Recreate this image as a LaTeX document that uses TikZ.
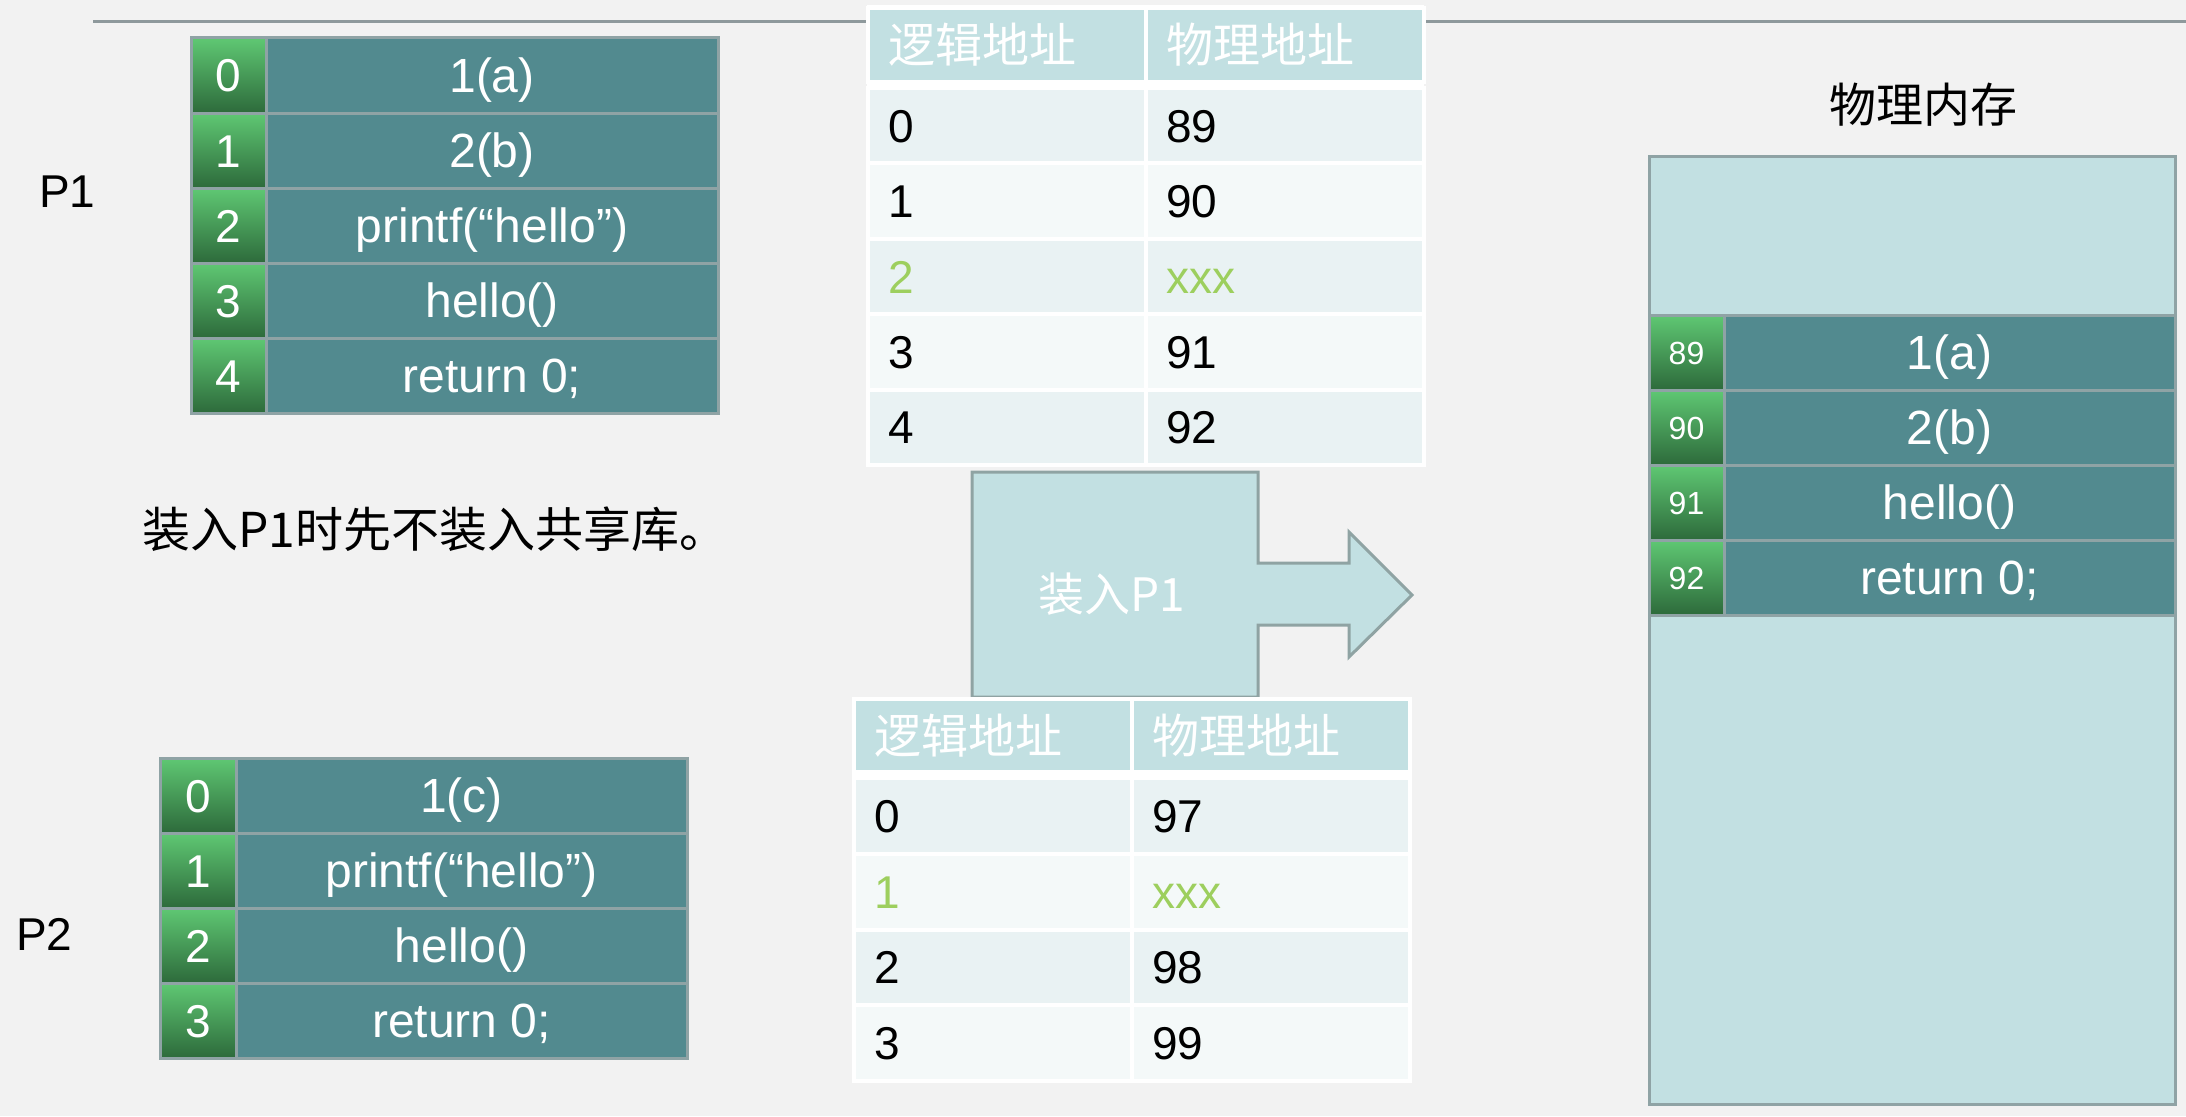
\documentclass[tikz,border=0pt]{standalone}
\usepackage{fontspec}
\setmainfont{Liberation Sans}
\newfontfamily\cjk{Noto Sans CJK SC}
\definecolor{bg}{HTML}{F2F2F2}
\definecolor{tealc}{HTML}{528A8F}
\definecolor{gridc}{HTML}{8FA3A5}
\definecolor{gtop}{HTML}{5FC873}
\definecolor{gbot}{HTML}{2D6A3B}
\definecolor{lblue}{HTML}{C2E0E2}
\definecolor{rowa}{HTML}{E9F2F3}
\definecolor{rowb}{HTML}{F4F9F9}
\definecolor{xgreen}{HTML}{9DCF5E}
\definecolor{lineg}{HTML}{8E999C}
\definecolor{arrowc}{HTML}{8FA3A3}
\tikzset{
  cellbase/.style={inner sep=0pt, outer sep=0pt, anchor=north west},
  codecell/.style={cellbase, fill=tealc, draw=gridc, line width=3pt, text=white,
    minimum height=75pt, font=\fontsize{48}{52}\selectfont, text height=34pt, text depth=0pt},
  idxcell/.style={cellbase, top color=gtop, bottom color=gbot, draw=gridc, line width=3pt,
    text=white, minimum width=75pt, minimum height=75pt,
    font=\fontsize{46}{50}\selectfont, text height=33pt, text depth=0pt},
  tblbg/.style={cellbase, fill=white},
  ptcell/.style={cellbase, draw=white, line width=4pt, text width=238pt,
    inner xsep=20pt, inner ysep=0pt, align=left},
  ptdata/.style={ptcell, font=\fontsize{46}{50}\selectfont, text height=33pt, text depth=0pt},
  pthead/.style={ptcell, fill=lblue, text=white, minimum height=74pt,
    font=\cjk\fontsize{47}{50}\selectfont},
  lbl/.style={inner sep=0pt, font=\fontsize{46}{50}\selectfont},
  cjklbl/.style={inner sep=0pt, font=\cjk\fontsize{47}{50}\selectfont},
}
\begin{document}
\begin{tikzpicture}[x=1pt, y=-1pt]
  \useasboundingbox (0,0) rectangle (2186,1116);
  \fill[bg] (0,0) rectangle (2186,1116);

  % top rule
  \coordinate (ruleL) at (93,22);
  \coordinate (ruleR) at (2186,22);
  \draw[lineg, line width=3pt] (ruleL) -- (ruleR);

  % labels
  \node[lbl, anchor=base west] (lp1) at (39,207) {P1};
  \node[lbl, anchor=base west] (lp2) at (16,950) {P2};
  \node[cjklbl, font=\cjk\fontsize{48}{52}\selectfont, anchor=base west] (desc) at (142,547) {装入P1时先不装入共享库。};
  \node[cjklbl] (memtitle) at (1923,105) {物理内存};

  % P1 code table
  \foreach \t [count=\i from 0] in {1(a),2(b),{printf(“hello”)},hello(),{return 0;}} {
    \node[codecell, minimum width=452pt] (p1c\i) at (266,{38+75*\i}) {\t};
    \node[idxcell] (p1i\i) at (191,{38+75*\i}) {\i};
  }

  % P2 code table
  \foreach \t [count=\i from 0] in {1(c),{printf(“hello”)},hello(),{return 0;}} {
    \node[codecell, minimum width=451pt] (p2c\i) at (236,{758+75*\i}) {\t};
    \node[idxcell, minimum width=76pt] (p2i\i) at (160,{758+75*\i}) {\i};
  }

  % load arrow
  \path[draw=arrowc, fill=lblue, line width=3pt]
    (972,697) -- (972,472) -- (1258,472) -- (1258,563) -- (1349,563) -- (1349,532)
    -- (1412,595) -- (1349,657) -- (1349,625) -- (1258,625) -- (1258,697) -- cycle;
  \node[font=\cjk\fontsize{46}{50}\selectfont, text=white, inner sep=0pt] (load) at (1112,594) {装入P1};

  % page table 1
  \node[tblbg, minimum width=557pt, minimum height=461pt] (t1) at (867,5) {};
  \node[pthead] (t1h1) at (868,8) {逻辑地址};
  \node[pthead] (t1h2) at (1146,8) {物理地址};
  \foreach \l/\p/\c/\f [count=\i from 0] in
      {0/89/black/rowa,1/90/black/rowb,2/xxx/xgreen/rowa,3/91/black/rowb,4/92/black/rowa} {
    \node[ptdata, fill=\f, text=\c, minimum height=75.4pt] (t1l\i) at (868,{88+75.4*\i}) {\l};
    \node[ptdata, fill=\f, text=\c, minimum height=75.4pt] (t1p\i) at (1146,{88+75.4*\i}) {\p};
  }

  % page table 2
  \node[tblbg, minimum width=560pt, minimum height=385pt] (t2) at (852,697) {};
  \node[pthead, minimum height=73pt] (t2h1) at (854,699) {逻辑地址};
  \node[pthead, minimum height=73pt] (t2h2) at (1132,699) {物理地址};
  \foreach \l/\p/\c/\f [count=\i from 0] in
      {0/97/black/rowa,1/xxx/xgreen/rowb,2/98/black/rowa,3/99/black/rowb} {
    \node[ptdata, fill=\f, text=\c, minimum height=75.75pt] (t2l\i) at (854,{778+75.75*\i}) {\l};
    \node[ptdata, fill=\f, text=\c, minimum height=75.75pt] (t2p\i) at (1132,{778+75.75*\i}) {\p};
  }

  % physical memory
  \node[cellbase, fill=lblue, draw=gridc, line width=3pt, minimum width=526pt, minimum height=948pt] (mem) at (1649,156) {};
  \foreach \t [count=\i from 0] in {1(a),2(b),hello(),{return 0;}} {
    \pgfmathtruncatemacro\addr{89+\i}
    \node[codecell, minimum width=451pt] (mc\i) at (1724,{315+75*\i}) {\t};
    \node[idxcell, font=\fontsize{32}{36}\selectfont, text height=23pt] (mi\i) at (1649,{315+75*\i}) {\addr};
  }
\end{tikzpicture}
\end{document}
